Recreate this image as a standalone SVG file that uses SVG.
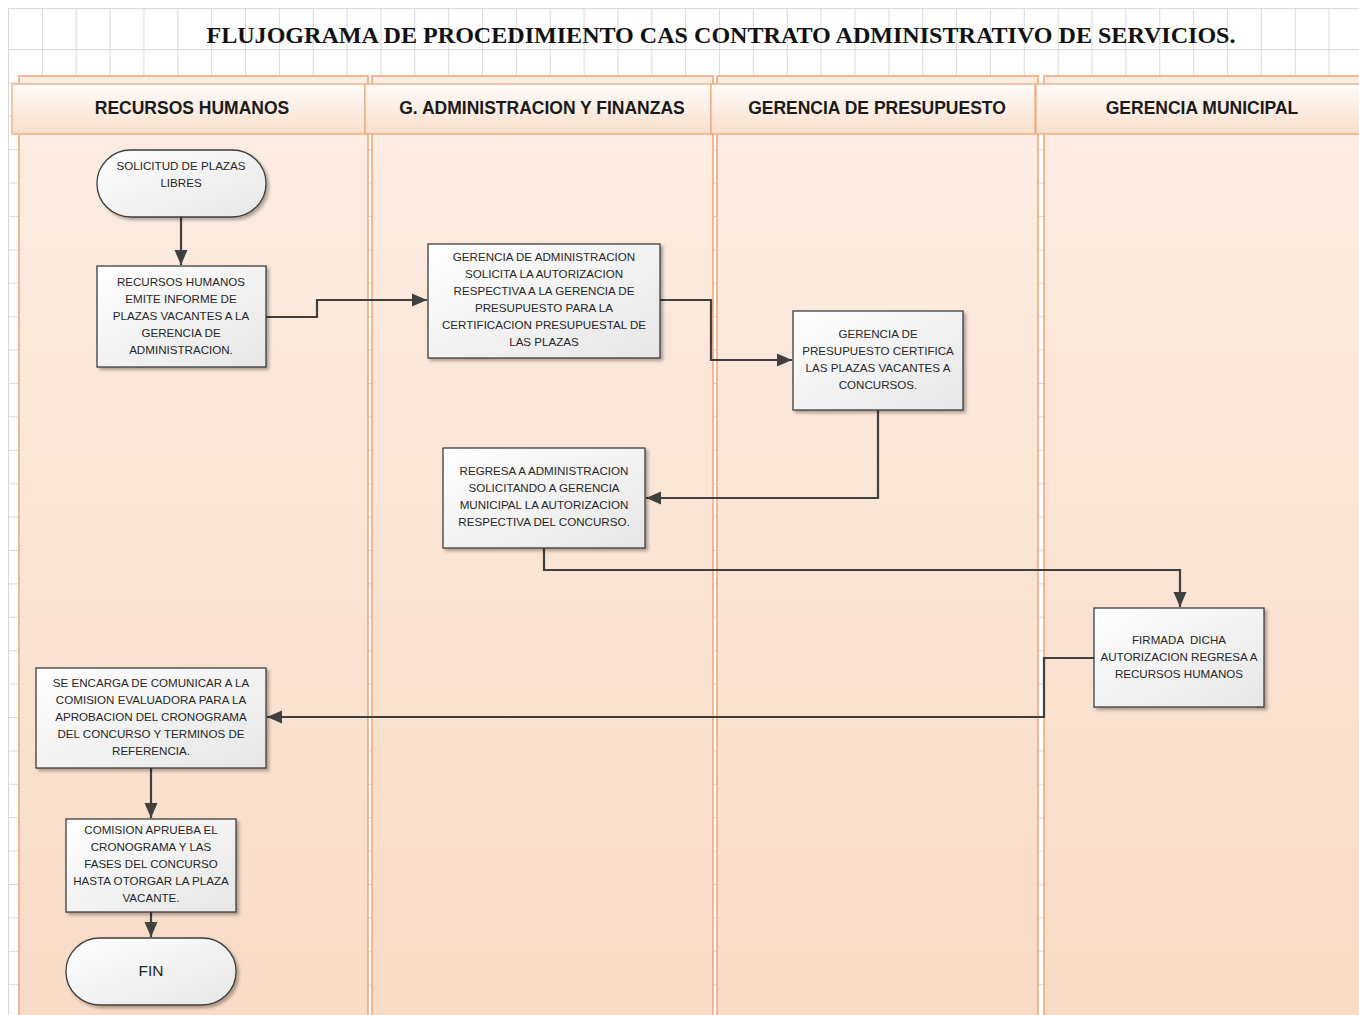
<svg xmlns="http://www.w3.org/2000/svg" width="1359" height="1015" viewBox="0 0 1359 1015">
<style>
.grid{stroke:#d9d9d9;stroke-width:1;fill:none}
.lane{fill:url(#laneGrad);stroke:#f1a474;stroke-width:1.5}
.hdr{fill:url(#hdrGrad);stroke:#f1a474;stroke-width:1.2}
.hdrText{font-family:"Liberation Sans",Arial,sans-serif;font-weight:bold;font-size:17.5px;fill:#1a1a1a;text-anchor:middle}
.box{fill:url(#boxGrad);stroke:#3d3d3d;stroke-width:1.3;filter:url(#shadow)}
.t{font-family:"Liberation Sans",Arial,sans-serif;font-size:11.6px;fill:#262626;text-anchor:middle}
.conn{fill:none;stroke:#404040;stroke-width:2.2;marker-end:url(#arrow)}
.title{font-family:"Liberation Serif","Times New Roman",serif;font-weight:bold;font-size:24px;fill:#111;text-anchor:middle}
</style>
<defs>
<linearGradient id="laneGrad" x1="0" y1="0" x2="0" y2="1">
<stop offset="0" stop-color="#fcede3"/>
<stop offset="1" stop-color="#f8dbc6"/>
</linearGradient>
<linearGradient id="hdrGrad" x1="0" y1="0" x2="0" y2="1">
<stop offset="0" stop-color="#fffcfa"/>
<stop offset="1" stop-color="#f9dfcc"/>
</linearGradient>
<linearGradient id="boxGrad" x1="0" y1="0" x2="1" y2="1">
<stop offset="0" stop-color="#ffffff"/>
<stop offset="1" stop-color="#e6e6e6"/>
</linearGradient>
<filter id="shadow" x="-10%" y="-10%" width="130%" height="130%">
<feDropShadow dx="2.5" dy="2.5" stdDeviation="1.5" flood-color="#000" flood-opacity="0.3"/>
</filter>
<pattern id="gridV" patternUnits="userSpaceOnUse" x="8" y="8" width="33.86" height="41">
<path class="grid" d="M0.5 0V41"/>
</pattern>
<pattern id="gridFull" patternUnits="userSpaceOnUse" x="8" y="49" width="33.86" height="33.4">
<path class="grid" d="M0.5 0V33.4M0 0.5H33.86"/>
</pattern>
<marker id="arrow" markerUnits="userSpaceOnUse" markerWidth="16" markerHeight="16" viewBox="0 0 16 16" refX="15" refY="8" orient="auto">
<path d="M0 1.5L15 8L0 14.5Z" fill="#404040"/>
</marker>
</defs>
<rect x="0" y="0" width="1359" height="1015" fill="#ffffff"/>
<rect x="8" y="8" width="1351" height="41" fill="url(#gridV)"/>
<rect x="8" y="49" width="1351" height="966" fill="url(#gridFull)"/>
<path class="grid" d="M8 8.5H1359"/>

<g id="lane-rrhh">
<rect class="lane" x="19" y="76" width="349" height="950"/>
<rect class="hdr" x="12" y="84" width="353" height="50"/>
<text class="hdrText" x="192" y="114">RECURSOS HUMANOS</text>
</g>
<g id="lane-gaf">
<rect class="lane" x="372" y="76" width="341" height="950"/>
<rect class="hdr" x="365" y="84" width="346" height="50"/>
<text class="hdrText" x="542" y="114">G. ADMINISTRACION Y FINANZAS</text>
</g>
<g id="lane-gp">
<rect class="lane" x="717" y="76" width="321" height="950"/>
<rect class="hdr" x="711" y="84" width="324" height="50"/>
<text class="hdrText" x="877" y="114">GERENCIA DE PRESUPUESTO</text>
</g>
<g id="lane-gm">
<rect class="lane" x="1044" y="76" width="330" height="950"/>
<rect class="hdr" x="1036" y="84" width="330" height="50"/>
<text class="hdrText" x="1202" y="114">GERENCIA MUNICIPAL</text>
</g>

<text class="title" x="721" y="43" textLength="1029" lengthAdjust="spacingAndGlyphs">FLUJOGRAMA DE PROCEDIMIENTO CAS CONTRATO ADMINISTRATIVO DE SERVICIOS.</text>

<g id="connectors">
<path class="conn" d="M181 217V265"/>
<path class="conn" d="M266 317H317V300H427"/>
<path class="conn" d="M660 300H711V360H792"/>
<path class="conn" d="M878 410V498H646"/>
<path class="conn" d="M544 548V570H1180V607"/>
<path class="conn" d="M1094 658H1044V717H267"/>
<path class="conn" d="M151 768V818"/>
<path class="conn" d="M151 912V937"/>
</g>

<g id="n1">
<rect class="box" x="97" y="150" width="169" height="67" rx="34" ry="33"/>
<text class="t" x="181" y="170">SOLICITUD DE PLAZAS</text>
<text class="t" x="181" y="187">LIBRES</text>
</g>
<g id="n2">
<rect class="box" x="97" y="266" width="169" height="101"/>
<text class="t" x="181" y="286">RECURSOS HUMANOS</text>
<text class="t" x="181" y="303">EMITE INFORME DE</text>
<text class="t" x="181" y="320">PLAZAS VACANTES A LA</text>
<text class="t" x="181" y="337">GERENCIA DE</text>
<text class="t" x="181" y="354">ADMINISTRACION.</text>
</g>
<g id="n3">
<rect class="box" x="428" y="244" width="232" height="114"/>
<text class="t" x="544" y="261">GERENCIA DE ADMINISTRACION</text>
<text class="t" x="544" y="278">SOLICITA LA AUTORIZACION</text>
<text class="t" x="544" y="295">RESPECTIVA A LA GERENCIA DE</text>
<text class="t" x="544" y="312">PRESUPUESTO PARA LA</text>
<text class="t" x="544" y="329">CERTIFICACION PRESUPUESTAL DE</text>
<text class="t" x="544" y="346">LAS PLAZAS</text>
</g>
<g id="n4">
<rect class="box" x="793" y="311" width="170" height="99"/>
<text class="t" x="878" y="338">GERENCIA DE</text>
<text class="t" x="878" y="355">PRESUPUESTO CERTIFICA</text>
<text class="t" x="878" y="372">LAS PLAZAS VACANTES A</text>
<text class="t" x="878" y="389">CONCURSOS.</text>
</g>
<g id="n5">
<rect class="box" x="443" y="448" width="202" height="100"/>
<text class="t" x="544" y="475">REGRESA A ADMINISTRACION</text>
<text class="t" x="544" y="492">SOLICITANDO A GERENCIA</text>
<text class="t" x="544" y="509">MUNICIPAL LA AUTORIZACION</text>
<text class="t" x="544" y="526">RESPECTIVA DEL CONCURSO.</text>
</g>
<g id="n6">
<rect class="box" x="1094" y="608" width="170" height="99"/>
<text class="t" x="1179" y="644" style="white-space:pre">FIRMADA  DICHA</text>
<text class="t" x="1179" y="661">AUTORIZACION REGRESA A</text>
<text class="t" x="1179" y="678">RECURSOS HUMANOS</text>
</g>
<g id="n7">
<rect class="box" x="36" y="668" width="230" height="100"/>
<text class="t" x="151" y="687">SE ENCARGA DE COMUNICAR A LA</text>
<text class="t" x="151" y="704">COMISION EVALUADORA PARA LA</text>
<text class="t" x="151" y="721">APROBACION DEL CRONOGRAMA</text>
<text class="t" x="151" y="738">DEL CONCURSO Y TERMINOS DE</text>
<text class="t" x="151" y="755">REFERENCIA.</text>
</g>
<g id="n8">
<rect class="box" x="66" y="819" width="170" height="93"/>
<text class="t" x="151" y="834">COMISION APRUEBA EL</text>
<text class="t" x="151" y="851">CRONOGRAMA Y LAS</text>
<text class="t" x="151" y="868">FASES DEL CONCURSO</text>
<text class="t" x="151" y="885">HASTA OTORGAR LA PLAZA</text>
<text class="t" x="151" y="902">VACANTE.</text>
</g>
<g id="n9">
<rect class="box" x="66" y="938" width="170" height="67" rx="34" ry="33"/>
<text class="t" x="151" y="976" style="font-size:15.5px">FIN</text>
</g>
</svg>
